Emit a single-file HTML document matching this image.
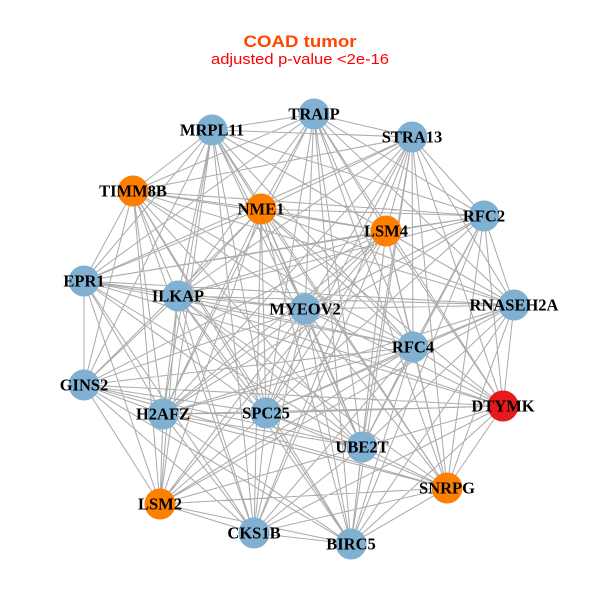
<!DOCTYPE html>
<html>
<head>
<meta charset="utf-8">
<style>
  html, body { margin:0; padding:0; background:#ffffff; }
  svg { display:block; }
  .lbl { font-family: "Liberation Serif", serif; font-weight: bold; font-size: 16.5px; fill:#000; text-anchor: middle; }
</style>
</head>
<body>
<svg width="600" height="600" viewBox="0 0 600 600" xmlns="http://www.w3.org/2000/svg">
<rect width="600" height="600" fill="#ffffff"/>
<text x="300" y="47" text-anchor="middle" textLength="113" lengthAdjust="spacingAndGlyphs" font-family="Liberation Sans, sans-serif" font-weight="bold" font-size="17" fill="#ff4500">COAD tumor</text>
<text x="300" y="64" text-anchor="middle" textLength="178" lengthAdjust="spacingAndGlyphs" font-family="Liberation Sans, sans-serif" font-size="15" fill="#ff0000">adjusted p-value &lt;2e-16</text>

<path fill="none" stroke="#acacac" stroke-width="1.05" d="
M314 114L212 130 M314 114L412 137 M314 114L133 191 M314 114L261 209 M314 114L386 231 M314 114L484 216 M314 114L84 281 M314 114L178 296 M314 114L305 309 M314 114L514 305 M314 114L413 347 M314 114L266 413 M314 114L503 406 M314 114L362 447 M314 114L447 488 M314 114L351 544 M314 114L163 414
M212 130L412 137 M212 130L133 191 M212 130L261 209 M212 130L386 231 M212 130L84 281 M212 130L178 296 M212 130L305 309 M212 130L514 305 M212 130L413 347 M212 130L84 385 M212 130L163 414 M212 130L266 413 M212 130L362 447 M212 130L160 504 M212 130L254 533 M212 130L484 216 M212 130L447 488
M412 137L133 191 M412 137L261 209 M412 137L386 231 M412 137L484 216 M412 137L178 296 M412 137L305 309 M412 137L514 305 M412 137L413 347 M412 137L163 414 M412 137L266 413 M412 137L503 406 M412 137L362 447 M412 137L447 488 M412 137L351 544 M412 137L84 281 M412 137L254 533
M133 191L261 209 M133 191L386 231 M133 191L484 216 M133 191L84 281 M133 191L178 296 M133 191L305 309 M133 191L413 347 M133 191L84 385 M133 191L163 414 M133 191L266 413 M133 191L362 447 M133 191L160 504 M133 191L254 533 M133 191L514 305 M133 191L351 544
M261 209L386 231 M261 209L484 216 M261 209L84 281 M261 209L178 296 M261 209L305 309 M261 209L514 305 M261 209L413 347 M261 209L84 385 M261 209L163 414 M261 209L266 413 M261 209L503 406 M261 209L362 447 M261 209L447 488 M261 209L160 504 M261 209L254 533 M261 209L351 544
M386 231L484 216 M386 231L84 281 M386 231L178 296 M386 231L305 309 M386 231L514 305 M386 231L413 347 M386 231L84 385 M386 231L163 414 M386 231L266 413 M386 231L503 406 M386 231L362 447 M386 231L447 488 M386 231L160 504 M386 231L254 533 M386 231L351 544
M484 216L178 296 M484 216L305 309 M484 216L514 305 M484 216L413 347 M484 216L266 413 M484 216L503 406 M484 216L362 447 M484 216L447 488 M484 216L351 544 M484 216L84 281 M484 216L163 414
M84 281L178 296 M84 281L305 309 M84 281L514 305 M84 281L413 347 M84 281L84 385 M84 281L163 414 M84 281L266 413 M84 281L362 447 M84 281L160 504 M84 281L254 533 M84 281L503 406
M178 296L305 309 M178 296L514 305 M178 296L413 347 M178 296L84 385 M178 296L163 414 M178 296L266 413 M178 296L503 406 M178 296L362 447 M178 296L447 488 M178 296L160 504 M178 296L254 533 M178 296L351 544
M305 309L514 305 M305 309L413 347 M305 309L84 385 M305 309L163 414 M305 309L266 413 M305 309L503 406 M305 309L362 447 M305 309L447 488 M305 309L160 504 M305 309L254 533 M305 309L351 544
M514 305L413 347 M514 305L163 414 M514 305L266 413 M514 305L503 406 M514 305L362 447 M514 305L447 488 M514 305L351 544 M514 305L160 504
M413 347L84 385 M413 347L163 414 M413 347L266 413 M413 347L503 406 M413 347L362 447 M413 347L447 488 M413 347L160 504 M413 347L254 533 M413 347L351 544
M84 385L163 414 M84 385L266 413 M84 385L503 406 M84 385L362 447 M84 385L160 504 M84 385L254 533 M84 385L351 544 M84 385L447 488
M163 414L266 413 M163 414L503 406 M163 414L362 447 M163 414L447 488 M163 414L160 504 M163 414L254 533 M163 414L351 544
M266 413L503 406 M266 413L362 447 M266 413L447 488 M266 413L160 504 M266 413L254 533 M266 413L351 544
M503 406L362 447 M503 406L447 488 M503 406L254 533 M503 406L351 544
M362 447L447 488 M362 447L160 504 M362 447L254 533 M362 447L351 544
M447 488L160 504 M447 488L254 533 M447 488L351 544
M160 504L254 533 M160 504L351 544
M254 533L351 544
"/>

<g>
<circle cx="314" cy="114" r="15.5" fill="#80b1d3"/>
<circle cx="212" cy="130" r="15.5" fill="#80b1d3"/>
<circle cx="412" cy="137" r="15.5" fill="#80b1d3"/>
<circle cx="133" cy="191" r="15.5" fill="#ff7f00"/>
<circle cx="261" cy="209" r="15.5" fill="#ff7f00"/>
<circle cx="386" cy="231" r="15.5" fill="#ff7f00"/>
<circle cx="484" cy="216" r="15.5" fill="#80b1d3"/>
<circle cx="84" cy="281" r="15.5" fill="#80b1d3"/>
<circle cx="178" cy="296" r="15.5" fill="#80b1d3"/>
<circle cx="305" cy="309" r="15.5" fill="#80b1d3"/>
<circle cx="514" cy="305" r="15.5" fill="#80b1d3"/>
<circle cx="413" cy="347" r="15.5" fill="#80b1d3"/>
<circle cx="84" cy="385" r="15.5" fill="#80b1d3"/>
<circle cx="163" cy="414" r="15.5" fill="#80b1d3"/>
<circle cx="266" cy="413" r="15.5" fill="#80b1d3"/>
<circle cx="503" cy="406" r="15.5" fill="#e41a1c"/>
<circle cx="362" cy="447" r="15.5" fill="#80b1d3"/>
<circle cx="447" cy="488" r="15.5" fill="#ff7f00"/>
<circle cx="160" cy="504" r="15.5" fill="#ff7f00"/>
<circle cx="254" cy="533" r="15.5" fill="#80b1d3"/>
<circle cx="351" cy="544" r="15.5" fill="#80b1d3"/>
</g>

<g>
<text class="lbl" x="314" y="119.5">TRAIP</text>
<text class="lbl" x="212" y="135.5">MRPL11</text>
<text class="lbl" x="412" y="142.5">STRA13</text>
<text class="lbl" x="133" y="196.5">TIMM8B</text>
<text class="lbl" x="261" y="214.5">NME1</text>
<text class="lbl" x="386" y="236.5">LSM4</text>
<text class="lbl" x="484" y="221.5">RFC2</text>
<text class="lbl" x="84" y="286.5">EPR1</text>
<text class="lbl" x="178" y="301.5">ILKAP</text>
<text class="lbl" x="305" y="314.5">MYEOV2</text>
<text class="lbl" x="514" y="310.5">RNASEH2A</text>
<text class="lbl" x="413" y="352.5">RFC4</text>
<text class="lbl" x="84" y="390.5">GINS2</text>
<text class="lbl" x="163" y="419.5">H2AFZ</text>
<text class="lbl" x="266" y="418.5">SPC25</text>
<text class="lbl" x="503" y="411.5">DTYMK</text>
<text class="lbl" x="362" y="452.5">UBE2T</text>
<text class="lbl" x="447" y="493.5">SNRPG</text>
<text class="lbl" x="160" y="509.5">LSM2</text>
<text class="lbl" x="254" y="538.5">CKS1B</text>
<text class="lbl" x="351" y="549.5">BIRC5</text>
</g>
</svg>
</body>
</html>
